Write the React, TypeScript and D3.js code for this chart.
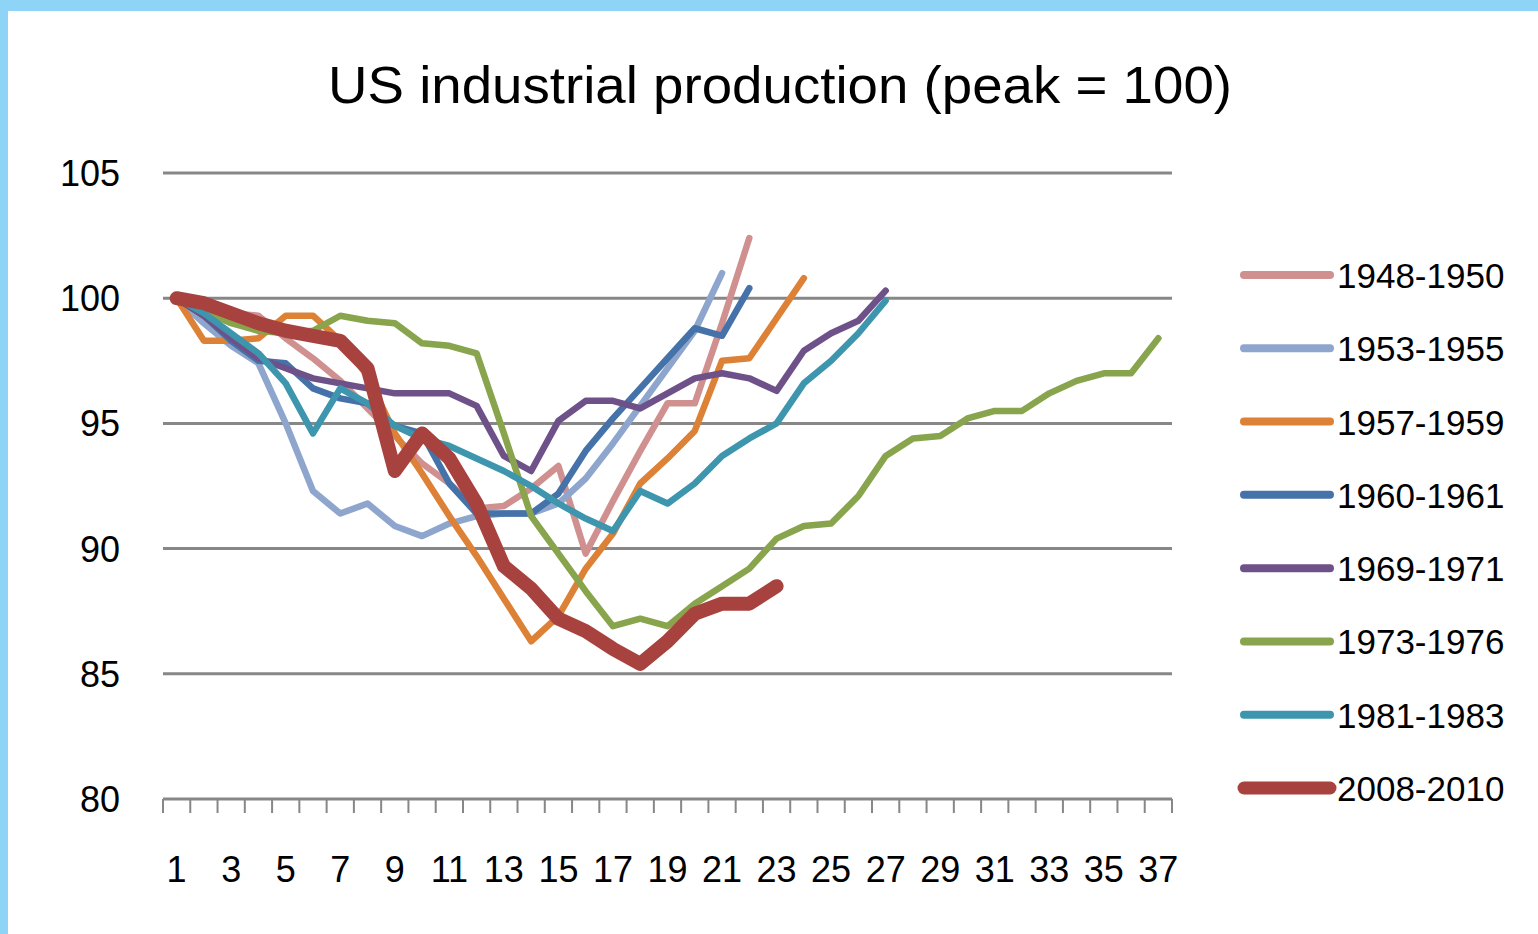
import React from "react";
import * as d3 from "d3";

const categories = Array.from({ length: 37 }, (_, i) => String(i + 1));
const yTicks = [80, 85, 90, 95, 100, 105];

const s1948 = [100, 99.7, 99.4, 99.3, 98.4, 97.6, 96.7, 95.6, 94.5, 93.4, 92.6, 91.6, 91.7, 92.4, 93.3, 89.8, 91.9, 93.9, 95.8, 95.8, 99.0, 102.4];
const s1953 = [100, 99.0, 98.1, 97.4, 95.0, 92.3, 91.4, 91.8, 90.9, 90.5, 91.0, 91.3, 91.4, 91.4, 91.8, 92.8, 94.2, 95.7, 97.2, 98.7, 101.0];
const s1957 = [100, 98.3, 98.3, 98.4, 99.3, 99.3, 98.3, 96.9, 94.6, 93.0, 91.3, 89.7, 88.0, 86.3, 87.3, 89.2, 90.6, 92.6, 93.6, 94.7, 97.5, 97.6, 99.2, 100.8];
const s1960 = [100, 99.3, 98.3, 97.5, 97.4, 96.4, 96.0, 95.8, 94.9, 94.6, 92.6, 91.4, 91.4, 91.4, 92.2, 93.9, 95.2, 96.4, 97.6, 98.8, 98.5, 100.4];
const s1969 = [100, 99.3, 98.4, 97.6, 97.2, 96.8, 96.6, 96.4, 96.2, 96.2, 96.2, 95.7, 93.7, 93.1, 95.1, 95.9, 95.9, 95.6, 96.2, 96.8, 97.0, 96.8, 96.3, 97.9, 98.6, 99.1, 100.3];
const s1973 = [100, 99.5, 99.0, 98.7, 98.6, 98.7, 99.3, 99.1, 99.0, 98.2, 98.1, 97.8, 94.6, 91.3, 89.8, 88.3, 86.9, 87.2, 86.9, 87.8, 88.5, 89.2, 90.4, 90.9, 91.0, 92.1, 93.7, 94.4, 94.5, 95.2, 95.5, 95.5, 96.2, 96.7, 97.0, 97.0, 98.4];
const s1981 = [100, 99.4, 98.6, 97.8, 96.6, 94.6, 96.4, 95.8, 94.9, 94.4, 94.1, 93.6, 93.1, 92.5, 91.8, 91.2, 90.7, 92.3, 91.8, 92.6, 93.7, 94.4, 95.0, 96.6, 97.5, 98.6, 99.9];
const s2008 = [100, 99.8, 99.4, 99.0, 98.7, 98.5, 98.3, 97.2, 93.1, 94.6, 93.6, 91.8, 89.3, 88.4, 87.2, 86.7, 86.0, 85.4, 86.3, 87.4, 87.8, 87.8, 88.5];

const seriesNames = ["1948-1950", "1953-1955", "1957-1959", "1960-1961", "1969-1971", "1973-1976", "1981-1983", "2008-2010"];
const seriesValues = [s1948, s1953, s1957, s1960, s1969, s1973, s1981, s2008];
const seriesColors = ["#D09090", "#8EA6CD", "#DD8136", "#4572A8", "#6F5189", "#88A44C", "#3D96AE", "#A8423F"];
const seriesWidths = [6.5, 6.5, 6.5, 6.5, 6.5, 6.5, 6.5, 14];

const W = 1538;
const H = 934;
const FONT = "'Liberation Sans', Arial, sans-serif";

export default function App() {
  const x = d3.scaleLinear().domain([0.5, categories.length + 0.5]).range([163, 1172]);
  const y = d3.scaleLinear().domain([80, 105]).range([799, 173]);
  const line = d3
    .line<number>()
    .x((_, i) => x(i + 1))
    .y((v) => y(v));

  const boundaries = d3.range(categories.length + 1).map((i) => i + 0.5);
  const legendY = d3.scaleLinear().domain([0, seriesNames.length - 1]).range([275, 788]);

  return (
    <div style={{ position: "absolute", left: 0, top: 0, width: W, height: H }}>
      <svg width={W} height={H} style={{ display: "block" }}>
        <rect x={0} y={0} width={W} height={H} fill="#8ED4F6" />
        <rect x={8} y={11} width={W - 8} height={H - 11} fill="#FFFFFF" />
        <text
          x={780}
          y={103}
          textAnchor="middle"
          fontFamily={FONT}
          fontSize={52}
          fill="#000"
          textLength={904}
          lengthAdjust="spacingAndGlyphs"
        >
          US industrial production (peak = 100)
        </text>
        {yTicks.map((t) => (
          <g key={t}>
            {t > 80 && (
              <line x1={163} x2={1172} y1={y(t)} y2={y(t)} stroke="#878787" strokeWidth={3} />
            )}
            <text x={120} y={y(t) + 13} textAnchor="end" fontFamily={FONT} fontSize={36} fill="#000">
              {t}
            </text>
          </g>
        ))}
        <line x1={163} x2={1172} y1={y(80)} y2={y(80)} stroke="#878787" strokeWidth={3} />
        {boundaries.map((b) => (
          <line key={b} x1={x(b)} x2={x(b)} y1={y(80)} y2={813} stroke="#878787" strokeWidth={2} />
        ))}
        {categories.map((c, i) =>
          i % 2 === 0 ? (
            <text key={c} x={x(i + 1)} y={882} textAnchor="middle" fontFamily={FONT} fontSize={36} fill="#000">
              {c}
            </text>
          ) : null
        )}
        {seriesValues.map((vals, si) => (
          <path
            key={seriesNames[si]}
            d={line(vals) || ""}
            fill="none"
            stroke={seriesColors[si]}
            strokeWidth={seriesWidths[si]}
            strokeLinejoin="round"
            strokeLinecap="round"
          />
        ))}
        {seriesNames.map((n, si) => (
          <g key={n}>
            <line
              x1={1244}
              x2={1330}
              y1={legendY(si)}
              y2={legendY(si)}
              stroke={seriesColors[si]}
              strokeWidth={si === 7 ? 13 : 8}
              strokeLinecap="round"
            />
            <text x={1337} y={legendY(si) + 13} fontFamily={FONT} fontSize={35} fill="#000">
              {n}
            </text>
          </g>
        ))}
      </svg>
    </div>
  );
}
